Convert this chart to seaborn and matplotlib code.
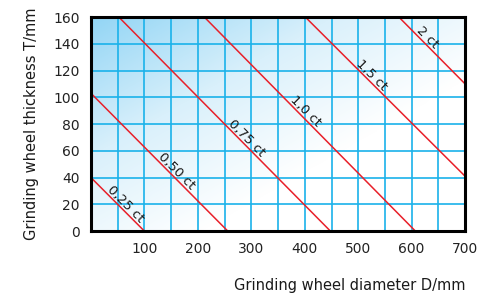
import numpy as np
import pandas as pd
import matplotlib
matplotlib.use("Agg")
import matplotlib.pyplot as plt
from matplotlib.colors import LinearSegmentedColormap
import seaborn as sns

# Carat lines: start and end points (D in mm, T in mm)
grades = ["0,25 ct", "0,50 ct", "0,75 ct", "1,0 ct", "1,5 ct", "2 ct"]
d_start = [0, 0, 52, 212, 401, 576]
t_start = [40, 103, 160, 160, 160, 160]
d_end = [100, 256, 448, 607, 700, 700]
t_end = [0, 0, 0, 0, 41, 110]
label_d = [57, 153, 284, 393, 518, 621]

x_ticks = [100, 200, 300, 400, 500, 600, 700]
y_ticks = [0, 20, 40, 60, 80, 100, 120, 140, 160]

sns.set_style("white")
plt.rcParams["font.family"] = ["DejaVu Sans"]

df = pd.DataFrame({
    "grade": grades + grades,
    "D": d_start + d_end,
    "T": t_start + t_end,
})

fig = plt.figure(figsize=(4.84, 2.99), dpi=100)
ax = fig.add_axes([0.188, 0.227, 0.773, 0.716])

# background gradient, light blue at top-left fading to white
xx, yy = np.meshgrid(np.linspace(0, 1, 200), np.linspace(0, 1, 200))
dist = np.clip((xx + yy) / 1.3, 0, 1)
cmap = LinearSegmentedColormap.from_list("bg", ["#92d5f5", "#d9f0fb", "#ffffff"])
ax.imshow(dist, extent=[0, 700, 0, 160], origin="upper", cmap=cmap,
          aspect="auto", zorder=0)

sns.lineplot(data=df, x="D", y="T", units="grade", estimator=None,
             color="#e8202a", linewidth=1.1, ax=ax, zorder=3)

for g, x0, y0, x1, y1, lx in zip(grades, d_start, t_start, d_end, t_end, label_d):
    ly = np.interp(lx, [x0, x1], [y0, y1])
    ax.annotate(g, (lx, ly), xytext=(3, 3), textcoords="offset points",
                rotation=-45, rotation_mode="anchor", ha="center", va="center",
                fontsize=9.5, color="#1a1a1a", zorder=4)

ax.set_xlim(0, 700)
ax.set_ylim(0, 160)
ax.set_xticks(np.arange(0, 701, 50))
ax.set_xticklabels(["" if (v % 100 or v == 0) else str(v) for v in np.arange(0, 701, 50)])
ax.set_yticks(y_ticks)
ax.grid(True, color="#1ab2ea", linewidth=1.2, zorder=1)
ax.set_axisbelow(False)
for line in ax.get_xgridlines() + ax.get_ygridlines():
    line.set_zorder(1)
ax.tick_params(length=0, labelsize=10, colors="#222222", pad=8)
for s in ax.spines.values():
    s.set_color("black")
    s.set_linewidth(2.2)
    s.set_zorder(5)

ax.set_xlabel("Grinding wheel diameter D/mm", fontsize=10.5, loc="right",
              labelpad=16, color="#1a1a1a")
ax.set_ylabel("Grinding wheel thickness T/mm", fontsize=10.5, labelpad=10,
              color="#1a1a1a")

fig.savefig("out.png", dpi=100)
